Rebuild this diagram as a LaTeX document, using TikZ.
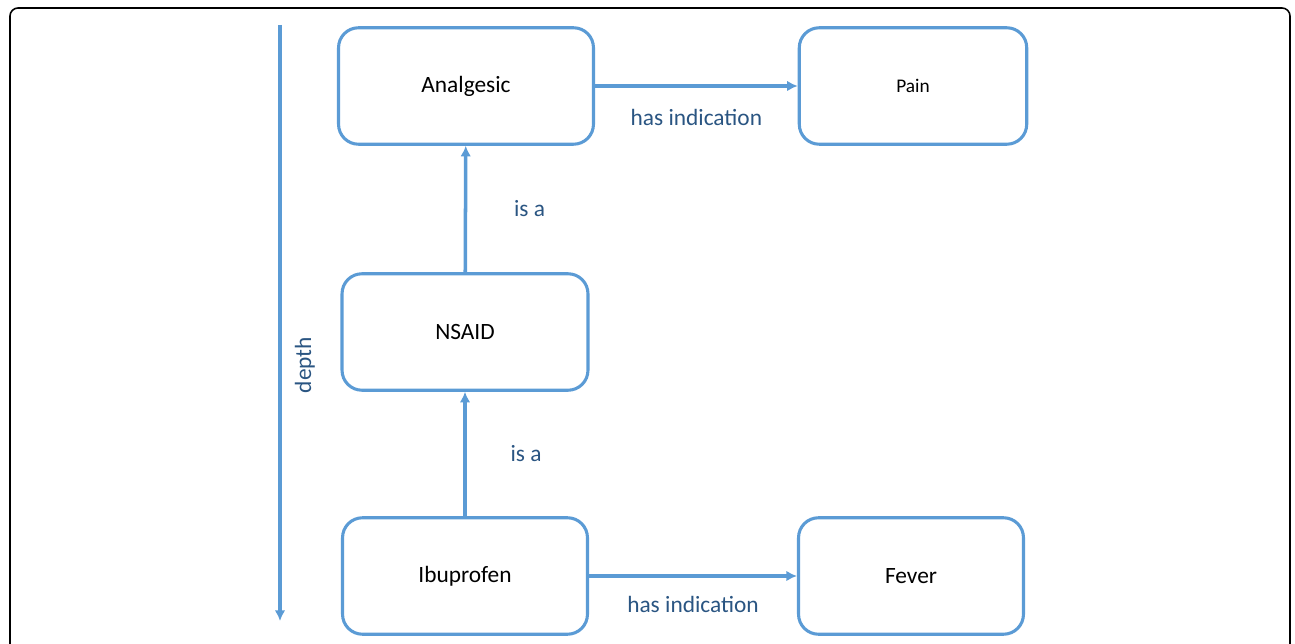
\documentclass[tikz,border=0pt]{standalone}
\usepackage{fontspec}
\setmainfont{Carlito}
\usetikzlibrary{arrows.meta}
\definecolor{boxblue}{HTML}{5B9BD5}
\definecolor{lblblue}{HTML}{2A5582}
\tikzset{
  concept/.style={draw=boxblue, line width=1.75pt, rounded corners=0.4cm,
    minimum width=5.1cm, minimum height=2.33cm, font=\fontsize{13.3}{16}\selectfont},
  rel/.style={draw=boxblue, line width=2pt, -{Latex[length=6pt,width=6pt]}},
  lbl/.style={text=lblblue, font=\fontsize{13.3}{16}\selectfont}
}
\begin{document}
\begin{tikzpicture}[x=0.02cm, y=-0.02cm]
  \useasboundingbox (0,0) rectangle (1295,644);
  % Rahmen
  \draw[line width=0.9pt, rounded corners=0.16cm] (10,650) -- (10,8) -- (1290,8) -- (1290,650);

  % Begriffe
  \node[concept] (analgesic) at (466,86) {Analgesic};
  \node[concept, minimum width=4.55cm, font=\fontsize{11}{13}\selectfont] (pain) at (913,86) {Pain};
  \node[concept, minimum width=4.92cm] (nsaid) at (465,332) {NSAID};
  \node[concept, minimum width=4.9cm] (ibuprofen) at (465,576) {Ibuprofen};
  \node[concept, minimum width=4.5cm] (fever) at (911,576) {Fever};

  % Beziehungen
  \draw[rel] (analgesic) -- node[lbl, yshift=-0.62cm] {has indication} (pain);
  \draw[rel] (nsaid) -- node[lbl, xshift=1.28cm] {is a} (analgesic);
  \draw[rel] (ibuprofen) -- node[lbl, xshift=1.22cm] {is a} (nsaid);
  \draw[rel] (ibuprofen) -- node[lbl, yshift=-0.56cm] {has indication} (fever);

  % Tiefe
  \coordinate (top) at (280,25);
  \coordinate (bottom) at (280,621);
  \draw[rel] (top) -- (bottom);
  \node[lbl, rotate=90] (depth) at (305,365) {depth};
\end{tikzpicture}
\end{document}
